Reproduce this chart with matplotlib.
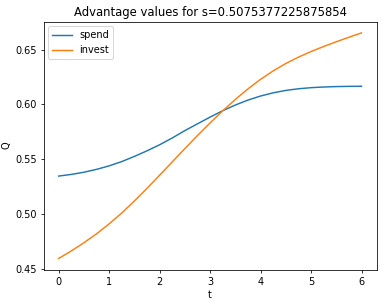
import matplotlib
matplotlib.use("Agg")
from matplotlib import pyplot as plt
import numpy as np

s = 0.5075377225875854
t = [0, 0.25, 0.5, 0.75, 1.0, 1.25, 1.5, 1.75, 2.0, 2.25, 2.5, 2.75, 3.0,
     3.25, 3.5, 3.75, 4.0, 4.25, 4.5, 4.75, 5.0, 5.25, 5.5, 5.75, 6.0]
spend = [0.5348, 0.5363, 0.5383, 0.5409, 0.5441, 0.5480, 0.5527, 0.5578,
         0.5633, 0.5695, 0.5762, 0.5824, 0.5885, 0.5943, 0.5995, 0.6040,
         0.6077, 0.6106, 0.6128, 0.6143, 0.6153, 0.6159, 0.6163, 0.6165,
         0.6166]
invest = [0.4598, 0.4666, 0.4741, 0.4822, 0.4913, 0.5012, 0.5121, 0.5236,
          0.5356, 0.5477, 0.5598, 0.5717, 0.5832, 0.5942, 0.6046, 0.6142,
          0.6229, 0.6306, 0.6373, 0.6431, 0.6482, 0.6528, 0.6571, 0.6612,
          0.6652]

dpi = 70
fig = plt.figure(figsize=(382/dpi, 300/dpi), dpi=dpi)
ax = fig.add_subplot(111)
ax.plot(t, spend, label="spend")
ax.plot(t, invest, label="invest")
ax.set_xlabel("t")
ax.set_ylabel("Q")
ax.set_title("Advantage values for s=" + str(s))
ax.legend(loc="upper left")
fig.subplots_adjust(left=0.114, right=0.986, bottom=0.101, top=0.928)
fig.savefig("out.png", dpi=dpi)
